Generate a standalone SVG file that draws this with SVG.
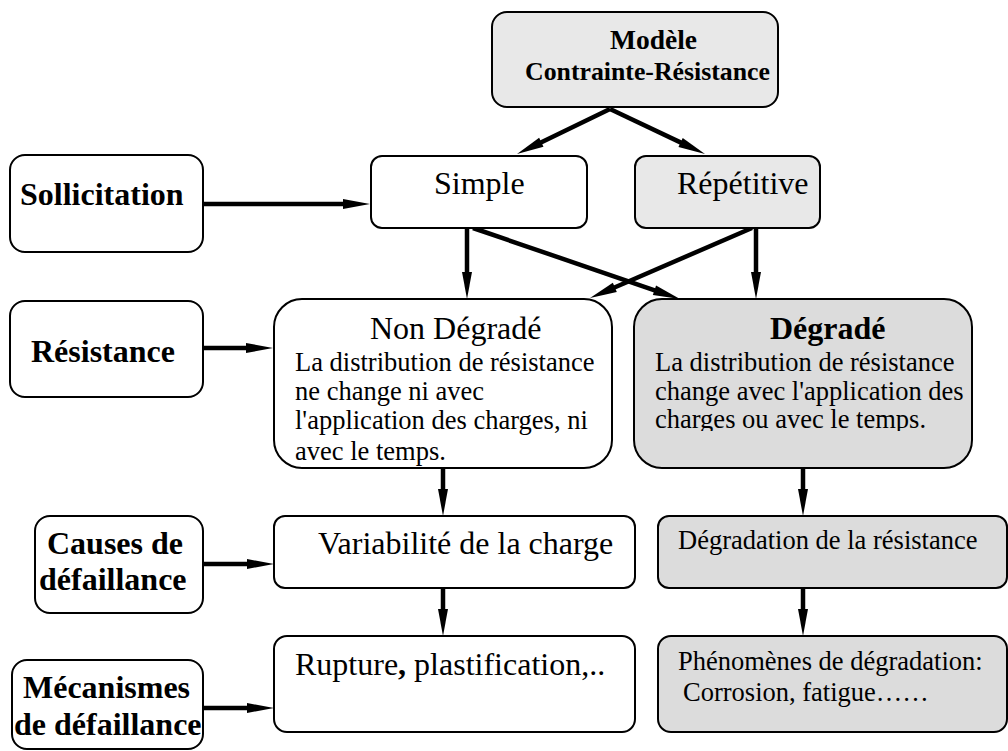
<svg xmlns="http://www.w3.org/2000/svg" width="1008" height="751" viewBox="0 0 1008 751">
  <style>
    .box { stroke: #000; stroke-width: 2; fill: #fff; }
    .light { fill: #e8e8e8; }
    .grey { fill: #dcdcdc; }
    text { font-family: "Liberation Serif", "Times New Roman", serif; fill: #000; }
    .b { font-weight: bold; font-size: 32px; }
    .r { font-size: 32px; }
    .s { font-size: 26.5px; }
    .conn line { stroke: #000; stroke-width: 4.5; marker-end: url(#ah); }
  </style>
  <defs>
    <marker id="ah" markerUnits="userSpaceOnUse" markerWidth="30" markerHeight="14" refX="0" refY="5" orient="auto" overflow="visible">
      <path d="M-1,0 L26,5 L-1,10 Z" fill="#000"/>
    </marker>
    <!-- lower edge of the last text line in the grey panel is trimmed -->
    <clipPath id="cut"><rect x="634" y="300" width="338" height="131"/></clipPath>
  </defs>

  <!-- connectors -->
  <g id="connectors" class="conn">
    <line x1="203" y1="204" x2="344" y2="204"/>
    <line x1="203" y1="348" x2="247" y2="348"/>
    <line x1="203" y1="564" x2="248" y2="564"/>
    <line x1="203" y1="708" x2="248" y2="708"/>
    <line x1="610" y1="109" x2="540.4" y2="142.7"/>
    <line x1="610" y1="109" x2="681.5" y2="142.9"/>
    <line x1="467" y1="228" x2="467" y2="273"/>
    <line x1="473" y1="228" x2="655.4" y2="290.6"/>
    <line x1="756" y1="228" x2="756" y2="273"/>
    <line x1="752" y1="228" x2="613.9" y2="287.7"/>
    <line x1="443" y1="468" x2="443" y2="490"/>
    <line x1="443" y1="588" x2="443" y2="610"/>
    <line x1="803" y1="468" x2="803" y2="490"/>
    <line x1="803" y1="588" x2="803" y2="610"/>
  </g>

  <g id="modele">
    <rect class="box light" x="492" y="12" width="286" height="95" rx="15"/>
    <text class="b" x="610" y="49" style="font-size:27.5px">Modèle</text>
    <text class="b" x="525" y="80" style="font-size:25.8px">Contrainte-Résistance</text>
  </g>

  <g id="sollicitation">
    <rect class="box" x="10" y="155" width="193" height="97" rx="15"/>
    <text class="b" x="20" y="205">Sollicitation</text>
  </g>

  <g id="simple">
    <rect class="box" x="371" y="156" width="216" height="72" rx="11"/>
    <text class="r" x="434" y="194">Simple</text>
  </g>

  <g id="repetitive">
    <rect class="box light" x="635" y="156" width="185" height="72" rx="11"/>
    <text class="r" x="677" y="194">Répétitive</text>
  </g>

  <g id="resistance">
    <rect class="box" x="10" y="301" width="193" height="96" rx="15"/>
    <text class="b" x="31" y="362">Résistance</text>
  </g>

  <g id="non-degrade">
    <rect class="box" x="274" y="299" width="338" height="169" rx="28"/>
    <text class="r" x="370" y="339">Non Dégradé</text>
    <text class="s" x="295" y="371">La distribution de résistance</text>
    <text class="s" x="295" y="400">ne change ni avec</text>
    <text class="s" x="295" y="429">l'application des charges, ni</text>
    <text class="s" x="295" y="460">avec le temps.</text>
  </g>

  <g id="degrade">
    <rect class="box grey" x="634" y="299" width="338" height="169" rx="28"/>
    <text class="b" x="770" y="339">Dégradé</text>
    <text class="s" x="655" y="371">La distribution de résistance</text>
    <text class="s" x="655" y="400">change avec l'application des</text>
    <text class="s" x="655" y="428" clip-path="url(#cut)">charges ou avec le temps.</text>
  </g>

  <g id="causes">
    <rect class="box" x="35" y="516" width="168" height="97" rx="15"/>
    <text class="b" x="47" y="554">Causes de</text>
    <text class="b" x="39" y="590">défaillance</text>
  </g>

  <g id="variabilite">
    <rect class="box" x="274" y="516" width="361" height="72" rx="11"/>
    <text class="r" x="318" y="554">Variabilité de la charge</text>
  </g>

  <g id="degradation">
    <rect class="box grey" x="658" y="516" width="349" height="72" rx="11"/>
    <text class="s" x="678" y="549">Dégradation de la résistance</text>
  </g>

  <g id="mecanismes">
    <rect class="box" x="12" y="660" width="191" height="89" rx="15"/>
    <text class="b" x="23" y="698">Mécanismes</text>
    <text class="b" x="14" y="735">de défaillance</text>
  </g>

  <g id="rupture">
    <rect class="box" x="274" y="636" width="361" height="96" rx="13"/>
    <text class="r" x="295" y="675">Rupture<tspan font-weight="bold">,</tspan> plastification,..</text>
  </g>

  <g id="phenomenes">
    <rect class="box grey" x="658" y="636" width="349" height="96" rx="13"/>
    <text class="s" x="678" y="670">Phénomènes de dégradation:</text>
    <text class="s" x="683" y="701">Corrosion, fatigue……</text>
  </g>
</svg>
